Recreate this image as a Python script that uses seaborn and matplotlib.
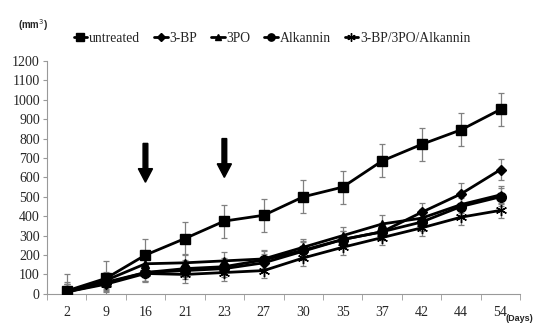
import numpy as np
import pandas as pd
import seaborn as sns
import matplotlib.pyplot as plt

# Days (categorical x axis)
days = ['2', '9', '16', '21', '23', '27', '30', '35', '37', '42', '44', '54']

# Tumor volume (mm3) per group
untreated = [15, 80, 200, 285, 375, 405, 500, 550, 685, 770, 845, 950]
bp3 = [10, 60, 110, 120, 130, 160, 220, 280, 320, 420, 515, 640]
po3 = [10, 70, 155, 160, 170, 180, 240, 300, 360, 390, 460, 510]
alkannin = [10, 55, 110, 130, 140, 175, 225, 280, 320, 370, 450, 500]
combo = [10, 50, 105, 100, 110, 120, 185, 240, 290, 340, 395, 430]

# error bars
untreated_err = [85, 90, 85, 85, 85, 85, 85, 85, 85, 85, 85, 85]
bp3_err = [40, 40, 45, 45, 45, 45, 45, 45, 45, 50, 55, 55]
po3_err = [40, 45, 45, 45, 45, 45, 45, 45, 45, 45, 45, 45]
alkannin_err = [40, 40, 45, 45, 45, 45, 45, 45, 45, 45, 45, 45]
combo_err = [50, 40, 45, 45, 45, 40, 40, 40, 40, 40, 40, 40]

groups = ['untreated', '3-BP', '3PO', 'Alkannin', '3-BP/3PO/Alkannin']
values = [untreated, bp3, po3, alkannin, combo]
errors = [untreated_err, bp3_err, po3_err, alkannin_err, combo_err]
markers = ['s', 'D', '^', 'o', (6, 2, 0)]
msizes = [7, 5, 6, 7, 8]

sns.set_style('white')
plt.rcParams['font.family'] = ['Liberation Serif', 'DejaVu Serif']

fig = plt.figure(figsize=(5.38, 3.24), dpi=100)
ax = fig.add_axes([0.087, 0.093, 0.88, 0.719])

x = np.arange(len(days))
for name, vals, err, mk, ms in zip(groups, values, errors, markers, msizes):
    ax.errorbar(x, vals, yerr=err, fmt='none', ecolor='#808080',
                elinewidth=0.9, capsize=2, capthick=0.9, zorder=2)
    df = pd.DataFrame({'day': x, 'vol': vals})
    sns.lineplot(data=df, x='day', y='vol', ax=ax, color='black',
                 linewidth=2, marker=mk, markersize=ms,
                 markeredgecolor='black', markerfacecolor='black',
                 markeredgewidth=1, label=name, zorder=3)

ax.set_xlim(-0.5, len(days) - 0.5)
ax.set_ylim(0, 1200)
ax.set_yticks(range(0, 1201, 100))
ax.set_xticks(x)
ax.set_xticklabels(days)
ax.set_xticks(np.arange(-0.5, len(days)), minor=True)
ax.tick_params(axis='x', which='major', length=0, pad=9, labelsize=10)
ax.tick_params(axis='x', which='minor', length=4, color='#999999',
               direction='out', bottom=True)
ax.tick_params(axis='y', length=3, color='#999999', direction='out',
               left=True, labelsize=10, pad=2)
ax.set_xlabel('')
ax.set_ylabel('')
for s in ['top', 'right']:
    ax.spines[s].set_visible(False)
for s in ['left', 'bottom']:
    ax.spines[s].set_color('#999999')
    ax.spines[s].set_linewidth(0.8)

# treatment arrows
ax.arrow(2, 775, 0, -200, width=0.12, head_width=0.36, head_length=70,
         length_includes_head=True, color='black', zorder=4)
ax.arrow(4, 800, 0, -200, width=0.12, head_width=0.36, head_length=70,
         length_includes_head=True, color='black', zorder=4)

leg = ax.legend(loc='lower left', bbox_to_anchor=(0.045, 1.045), ncol=5,
                frameon=False, fontsize=9.8, handlelength=1.0,
                handletextpad=0.15, columnspacing=1.0, borderaxespad=0,
                markerscale=0.75)

fig.text(0.033, 0.91, '(mm$^3$)', fontsize=7, fontweight='bold',
         family='Liberation Sans')
fig.text(0.94, 0.01, '(Days)', fontsize=6.5, fontweight='bold',
         family='Liberation Sans')

fig.savefig('out.png', dpi=100)
